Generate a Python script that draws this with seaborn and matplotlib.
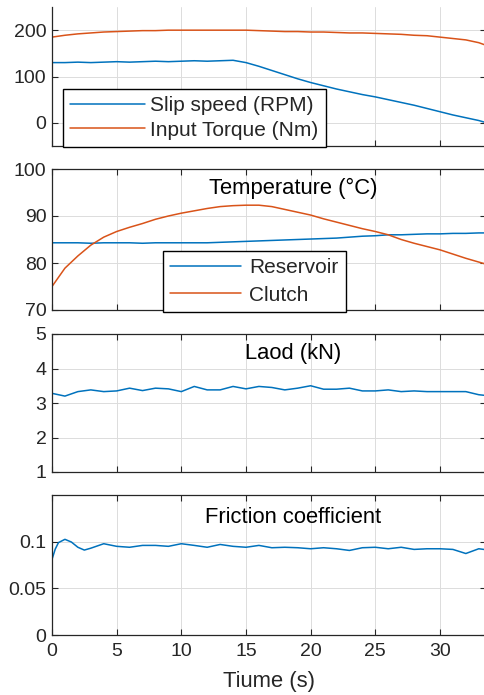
import numpy as np
import pandas as pd
import matplotlib
matplotlib.use("Agg")
import matplotlib.pyplot as plt
import seaborn as sns


# ## ---- ## #
# ## Data ## #
# ## ---- ## #

time_s = list(range(0, 34)) + [33.5]

slip_speed = [130, 130, 131, 130, 131, 132, 131, 132, 133, 132, 133, 134, 133, 134, 135,
              130, 122, 113, 104, 95, 87, 80, 73, 67, 61, 56, 50, 44, 38, 31, 24, 17, 11, 5, 1]
input_torque = [185, 189, 192, 194, 196, 197, 198, 199, 199, 200, 200, 200, 200, 200, 200,
                200, 199, 198, 197, 197, 196, 196, 195, 194, 194, 193, 192, 191, 189, 188,
                185, 182, 179, 173, 168]

temp_reservoir = [84.3, 84.3, 84.3, 84.2, 84.3, 84.3, 84.3, 84.2, 84.3, 84.3, 84.3, 84.3, 84.3,
                  84.4, 84.5, 84.6, 84.7, 84.8, 84.9, 85.0, 85.1, 85.2, 85.3, 85.5, 85.7, 85.8,
                  86.0, 86.0, 86.1, 86.2, 86.2, 86.3, 86.3, 86.4, 86.4]
temp_clutch = [75.0, 78.9, 81.5, 83.8, 85.5, 86.7, 87.6, 88.4, 89.3, 90.0, 90.6, 91.1, 91.6,
               92.0, 92.2, 92.3, 92.3, 92.0, 91.4, 90.8, 90.2, 89.4, 88.7, 88.0, 87.3, 86.7,
               86.0, 85.0, 84.2, 83.5, 82.8, 81.9, 81.0, 80.2, 79.8]

load_kn = [3.28, 3.20, 3.33, 3.38, 3.33, 3.35, 3.43, 3.36, 3.43, 3.41, 3.33, 3.48, 3.38, 3.38,
           3.48, 3.41, 3.48, 3.45, 3.38, 3.43, 3.50, 3.40, 3.40, 3.43, 3.35, 3.35, 3.38, 3.33,
           3.35, 3.33, 3.33, 3.33, 3.33, 3.24, 3.22]

friction_time = [0, 0.25, 0.5, 1, 1.5, 2, 2.5, 3] + list(range(4, 34)) + [33.5]
friction_coef = [0.081, 0.092, 0.099, 0.1025, 0.0996, 0.094, 0.091, 0.093,
                 0.0978, 0.095, 0.094, 0.096, 0.096, 0.095, 0.0978, 0.096, 0.094, 0.097,
                 0.095, 0.094, 0.096, 0.0935, 0.094, 0.0935, 0.0924, 0.0935, 0.0924, 0.0906,
                 0.0935, 0.094, 0.0924, 0.094, 0.0917, 0.0924, 0.0924, 0.0917, 0.0873, 0.0924,
                 0.0915]

x_ticks = [0, 5, 10, 15, 20, 25, 30]


# ## ----- ## #
# ## Style ## #
# ## ----- ## #

sns.set_theme(style="ticks")
plt.rcParams['font.family'] = ['Liberation Sans', 'DejaVu Sans']
plt.rcParams['font.size'] = 14

BLUE = "#0072BD"
ORANGE = "#D95319"
DARK = "#262626"
TEXT_SIZE = 15.8
LEGEND_SIZE = 15

fig = plt.figure(figsize=(4.84, 6.95), dpi=100)
W, H = 484, 695
left, right = 52, 486


def add_axes(top, bottom):
    return fig.add_axes([left / W, 1 - bottom / H, (right - left) / W, (bottom - top) / H])


def style_axes(ax, ylim, yticks, yticklabels=None, top_spine=True):
    ax.set_xlim(0, 33.56)
    ax.set_ylim(*ylim)
    ax.set_xticks(x_ticks)
    ax.set_yticks(yticks)
    if yticklabels is not None:
        ax.set_yticklabels(yticklabels)
    ax.grid(True, color="#dcdcdc", linewidth=0.7)
    ax.set_axisbelow(True)
    for name, sp in ax.spines.items():
        sp.set_color(DARK)
        sp.set_linewidth(0.9)
    ax.spines["top"].set_visible(top_spine)
    ax.tick_params(direction="in", length=4, width=0.8, colors=DARK, labelsize=14,
                   top=top_spine, right=True, pad=4)
    ax.set_xlabel("")
    ax.set_ylabel("")


def style_legend(leg):
    frame = leg.get_frame()
    frame.set_edgecolor("black")
    frame.set_linewidth(1.0)
    frame.set_facecolor("white")
    frame.set_alpha(1)


# ## ---------------------- ## #
# ## Panel 1: speed/torque ## #
# ## ---------------------- ## #

ax1 = add_axes(7, 146)
sns.lineplot(x=time_s, y=slip_speed, ax=ax1, color=BLUE, linewidth=1.1, label="Slip speed (RPM)")
sns.lineplot(x=time_s, y=input_torque, ax=ax1, color=ORANGE, linewidth=1.1, label="Input Torque (Nm)")
style_axes(ax1, (-50, 250), [0, 100, 200], top_spine=False)
ax1.set_xticklabels([])
leg1 = ax1.legend(loc="lower left", bbox_to_anchor=(0.025, -0.006), borderaxespad=0,
                  fancybox=False, fontsize=LEGEND_SIZE, handlelength=3.6, handletextpad=0.25,
                  labelspacing=0.25, borderpad=0.35)
style_legend(leg1)

# ## --------------------- ## #
# ## Panel 2: temperature ## #
# ## --------------------- ## #

ax2 = add_axes(169, 310)
sns.lineplot(x=time_s, y=temp_reservoir, ax=ax2, color=BLUE, linewidth=1.1, label="Reservoir")
sns.lineplot(x=time_s, y=temp_clutch, ax=ax2, color=ORANGE, linewidth=1.1, label="Clutch")
style_axes(ax2, (70, 100), [70, 80, 90, 100])
ax2.set_xticklabels([])
ax2.text(0.555, 0.86, "Temperature (°C)", transform=ax2.transAxes, ha="center", va="center",
         fontsize=TEXT_SIZE, color="black")
leg2 = ax2.legend(loc="lower left", bbox_to_anchor=(0.256, -0.014), borderaxespad=0,
                  fancybox=False, fontsize=LEGEND_SIZE, handlelength=3.4, handletextpad=0.38,
                  labelspacing=0.4, borderpad=0.35)
style_legend(leg2)

# ## -------------- ## #
# ## Panel 3: load ## #
# ## -------------- ## #

ax3 = add_axes(334, 472)
sns.lineplot(x=time_s, y=load_kn, ax=ax3, color=BLUE, linewidth=1.1)
style_axes(ax3, (1, 5), [1, 2, 3, 4, 5])
ax3.set_xticklabels([])
ax3.text(0.555, 0.86, "Laod (kN)", transform=ax3.transAxes, ha="center", va="center",
         fontsize=TEXT_SIZE, color="black")

# ## ------------------ ## #
# ## Panel 4: friction ## #
# ## ------------------ ## #

ax4 = add_axes(495, 635)
sns.lineplot(x=friction_time, y=friction_coef, ax=ax4, color=BLUE, linewidth=1.1)
style_axes(ax4, (0, 0.15), [0, 0.05, 0.1], ["0", "0.05", "0.1"])
ax4.set_xticklabels([str(t) for t in x_ticks])
ax4.tick_params(axis="x", pad=6)
ax4.text(0.555, 0.84, "Friction coefficient", transform=ax4.transAxes, ha="center",
         va="center", fontsize=TEXT_SIZE, color="black")
ax4.set_xlabel("Tiume (s)", fontsize=TEXT_SIZE, color=DARK, labelpad=8)

fig.savefig("out.png", dpi=100)
